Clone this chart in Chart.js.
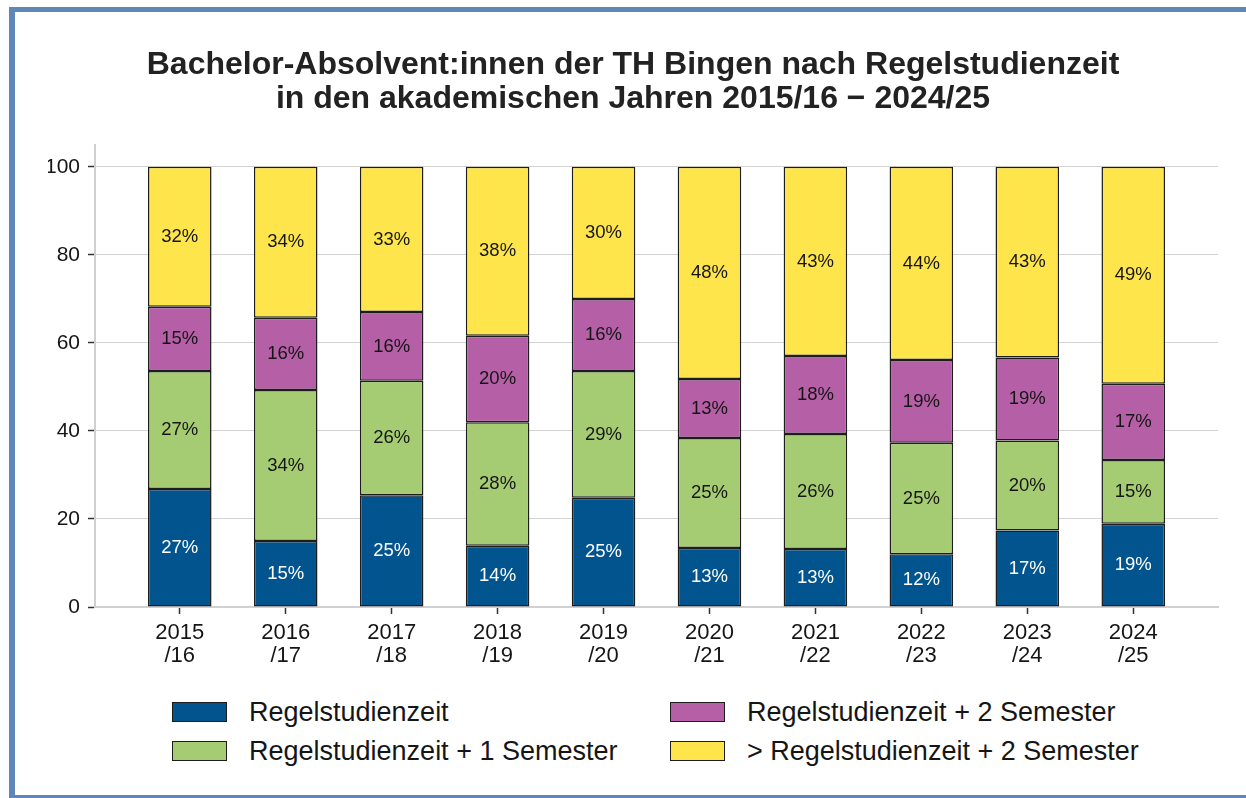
<!DOCTYPE html>
<html lang="de">
<head>
<meta charset="utf-8">
<title>Bachelor-Absolvent:innen TH Bingen</title>
<script src="https://cdn.jsdelivr.net/npm/chart.js@4"></script>
<style>
  html, body { margin: 0; padding: 0; background: #fff; overflow: hidden; }
  body { width: 1246px; height: 798px; position: relative; font-family: "Liberation Sans", Arial, sans-serif; }
  .frame {
    position: absolute; left: 9px; top: 7px; width: 1260px; height: 783px;
    border-left: 6px solid #5f87ba; border-top: 5px solid #5f87ba; border-bottom: 3px solid #5f87ba;
  }
  #chart-wrap { position: absolute; left: 0; top: 0; width: 1246px; height: 687px; }
  .legend { position: absolute; left: 0; top: 0; margin: 0; padding: 0; list-style: none; }
  .legend li { position: absolute; display: flex; align-items: center; white-space: nowrap;
    font-size: 27px; color: #151515; height: 20px; }
  .legend .box { width: 55px; height: 20px; box-sizing: border-box; border: 1.5px solid #1d1d1d; margin-right: 22px; }
</style>
</head>
<body>
<div class="frame"></div>
<div id="chart-wrap"><canvas id="grad-chart" width="1246" height="687"></canvas></div>
<ul class="legend" id="grad-legend"></ul>
<script>
// Werte in Prozent
const YEARS = ["2015/16","2016/17","2017/18","2018/19","2019/20","2020/21","2021/22","2022/23","2023/24","2024/25"];
const REGEL  = [26.8, 15.0, 25.4, 13.9, 24.8, 13.4, 13.2, 12.0, 17.4, 18.9];
const PLUS1  = [26.8, 34.3, 26.0, 28.1, 28.8, 25.0, 26.1, 25.3, 20.4, 14.5];
const PLUS2  = [14.6, 16.4, 15.6, 19.6, 16.4, 13.4, 17.7, 18.8, 18.9, 17.3];
const MEHR   = [31.8, 34.3, 33.0, 38.4, 30.0, 48.2, 43.0, 43.9, 43.3, 49.3];
const Y_TICKS = [0, 20, 40, 60, 80, 100];

const SERIES = [
  { label: "Regelstudienzeit",               data: REGEL, color: "#02548f", text: "#ffffff" },
  { label: "Regelstudienzeit + 1 Semester",  data: PLUS1, color: "#a6cc73", text: "#151515" },
  { label: "Regelstudienzeit + 2 Semester",  data: PLUS2, color: "#b55fa6", text: "#151515" },
  { label: "> Regelstudienzeit + 2 Semester", data: MEHR, color: "#ffe54c", text: "#151515" },
];

const FONT = "'Liberation Sans', Arial, sans-serif";

// Prozentwerte mittig in jedes Segment schreiben
const segmentLabels = {
  id: "segmentLabels",
  afterDatasetsDraw(chart) {
    const ctx = chart.ctx;
    ctx.save();
    ctx.font = `18.5px ${FONT}`;
    ctx.textAlign = "center";
    ctx.textBaseline = "middle";
    chart.data.datasets.forEach((ds, di) => {
      const meta = chart.getDatasetMeta(di);
      ctx.fillStyle = SERIES[di].text;
      meta.data.forEach((bar, i) => {
        const v = ds.data[i].y;
        ctx.fillText(Math.round(v) + "%", bar.x, (bar.y + bar.base) / 2);
      });
    });
    ctx.restore();
  },
};

new Chart(document.getElementById("grad-chart"), {
  type: "bar",
  data: {
    datasets: SERIES.map(s => ({
      label: s.label,
      data: s.data.map((v, i) => ({ x: i, y: v })),
      backgroundColor: s.color,
      borderColor: "#1d1d1d",
      borderWidth: 1.5,
      borderSkipped: false,
      categoryPercentage: 1,
      barPercentage: 0.6,
    })),
  },
  options: {
    responsive: false,
    animation: false,
    layout: { padding: { left: 48, right: 28, top: 0, bottom: 0 } },
    plugins: {
      legend: { display: false },
      tooltip: { enabled: false },
      title: {
        display: true,
        text: ["Bachelor-Absolvent:innen der TH Bingen nach Regelstudienzeit",
               "in den akademischen Jahren 2015/16 \u2212 2024/25"],
        color: "#222222",
        font: { family: FONT, size: 32, weight: "bold", lineHeight: 1.06 },
        padding: { top: 48, bottom: 29 },
      },
    },
    scales: {
      x: {
        type: "linear",
        stacked: true,
        offset: false,
        min: -0.8,
        max: 9.8,
        afterBuildTicks: axis => { axis.ticks = YEARS.map((_, i) => ({ value: i })); },
        afterFit: axis => { axis.height = 80; },
        ticks: {
          color: "#151515",
          font: { family: FONT, size: 22, lineHeight: 1.05 },
          padding: 7,
          maxRotation: 0,
          autoSkip: false,
          callback: v => {
            const [a, b] = YEARS[v].split("/");
            return [a, "/" + b];
          },
        },
        grid: { offset: false, drawOnChartArea: false, tickLength: 7, tickColor: "#333333", tickWidth: 1.5 },
        border: { color: "#d0d0d0", width: 2 },
      },
      y: {
        stacked: true,
        min: 0,
        max: 105,
        afterBuildTicks: axis => { axis.ticks = Y_TICKS.map(v => ({ value: v })); },
        afterFit: axis => { axis.width = 47; },
        ticks: { color: "#151515", font: { family: FONT, size: 21 }, padding: 8 },
        grid: { color: "#d3d3d3", lineWidth: 1, borderDash: [2, 2], tickLength: 7, tickColor: "#333333", tickWidth: 1.5 },
        border: { color: "#d0d0d0", width: 2 },
      },
    },
  },
  plugins: [segmentLabels],
});

// Legende zweispaltig, spaltenweise wie in der Vorlage
const LEGEND_POS = [[172, 702], [172, 741], [670, 702], [670, 741]];
document.getElementById("grad-legend").innerHTML = SERIES.map((s, i) =>
  `<li style="left:${LEGEND_POS[i][0]}px;top:${LEGEND_POS[i][1]}px"><span class="box" style="background:${s.color}"></span>${s.label}</li>`
).join("");
</script>
</body>
</html>
